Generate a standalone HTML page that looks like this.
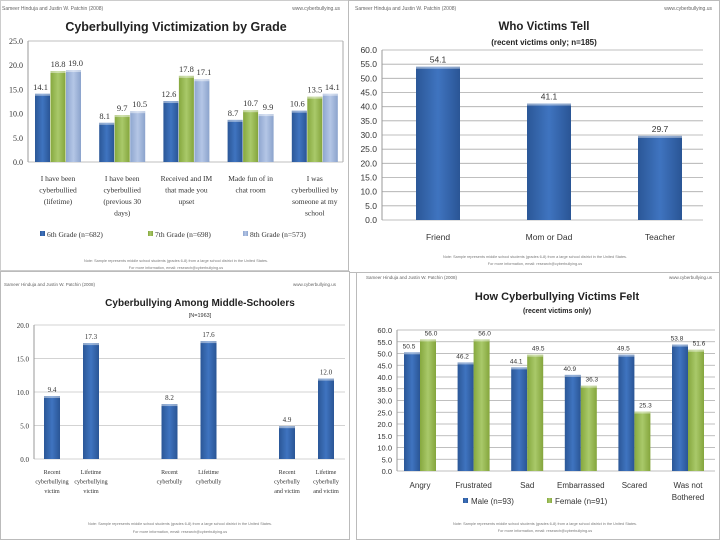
<!DOCTYPE html>
<html><head><meta charset="utf-8">
<style>
body{margin:0;width:720px;height:540px;background:#fff;position:relative;overflow:hidden;font-family:"Liberation Sans",sans-serif;}
.panel{position:absolute;background:#fff;border:1px solid #bbb;box-sizing:border-box;}
svg{position:absolute;left:0;top:0;}
</style></head>
<body>
<div class="panel" style="left:0;top:0;width:349px;height:271px;border-color:#ccc"></div>
<div class="panel" style="left:348px;top:0;width:372px;height:273px"></div>
<div class="panel" style="left:0;top:271px;width:350px;height:269px"></div>
<div class="panel" style="left:356px;top:272px;width:364px;height:268px"></div>
<svg id="s" width="720" height="540" xmlns="http://www.w3.org/2000/svg">
<defs>
<linearGradient id="gb" x1="0" x2="1"><stop offset="0" stop-color="#2b5797"/><stop offset="0.5" stop-color="#3f74c0"/><stop offset="1" stop-color="#2a5595"/></linearGradient>
<linearGradient id="gg" x1="0" x2="1"><stop offset="0" stop-color="#86a83e"/><stop offset="0.5" stop-color="#a9c96a"/><stop offset="1" stop-color="#84a53c"/></linearGradient>
<linearGradient id="gl" x1="0" x2="1"><stop offset="0" stop-color="#8ea6cf"/><stop offset="0.5" stop-color="#b4c6e6"/><stop offset="1" stop-color="#8ba3cc"/></linearGradient>
</defs>
</svg>
<script>
// Chart 1: Cyberbullying Victimization by Grade
const c1Categories=[["I have been","cyberbullied","(lifetime)"],["I have been","cyberbullied","(previous 30","days)"],["Received and IM","that made you","upset"],["Made fun of in","chat room"],["I was","cyberbullied by","someone at my","school"]];
const c1Grade6=[14.1,8.1,12.6,8.7,10.6];
const c1Grade7=[18.8,9.7,17.8,10.7,13.5];
const c1Grade8=[19.0,10.5,17.1,9.9,14.1];
const c1Ticks=[0,5,10,15,20,25];
// Chart 2: Who Victims Tell
const c2Categories=[["Friend"],["Mom or Dad"],["Teacher"]];
const c2Values=[54.1,41.1,29.7];
const c2Ticks=[0,5,10,15,20,25,30,35,40,45,50,55,60];
// Chart 3: Among Middle-Schoolers
const c3Categories=[["Recent","cyberbullying","victim"],["Lifetime","cyberbullying","victim"],["Recent","cyberbully"],["Lifetime","cyberbully"],["Recent","cyberbully","and victim"],["Lifetime","cyberbully","and victim"]];
const c3Values=[9.4,17.3,8.2,17.6,4.9,12.0];
const c3Ticks=[0,5,10,15,20];
// Chart 4: How Victims Felt
const c4Categories=[["Angry"],["Frustrated"],["Sad"],["Embarrassed"],["Scared"],["Was not","Bothered"]];
const c4Male=[50.5,46.2,44.1,40.9,49.5,53.8];
const c4Female=[56.0,56.0,49.5,36.3,25.3,51.6];
const c4Ticks=[0,5,10,15,20,25,30,35,40,45,50,55,60];

const svg=document.getElementById('s');
const NS='http://www.w3.org/2000/svg';
function mk(tag,attrs,name,parent){const e=document.createElementNS(NS,tag);for(const k in attrs)e.setAttribute(k,attrs[k]);


(parent||svg).appendChild(e);return e;}
function txt(x,y,s,size,name,opts){opts=opts||{};const t=mk('text',{x:x,y:y,'font-size':size,fill:opts.fill||'#333','text-anchor':opts.anchor||'middle','font-weight':opts.bold?'bold':'normal','font-family':opts.serif?'"Liberation Serif",serif':'"Liberation Sans",sans-serif'},name);t.textContent=s;return t;}

function chart(cfg){
  const yS=v=>cfg.y0-(v-cfg.min)/(cfg.max-cfg.min)*(cfg.y0-cfg.y1);
  cfg.ticks.forEach(t=>{
    if(!cfg.noGrid||t===cfg.min||t===cfg.max) mk('line',{x1:cfg.x0,x2:cfg.x1,y1:yS(t),y2:yS(t),stroke:cfg.gridColor||'#aaa','stroke-width':0.8},'gridline');
    txt(cfg.x0-5,yS(t)+3,t.toFixed(1),cfg.tickSize||9,'y-tick-label',{anchor:'end',serif:cfg.serif});
  });
  mk('line',{x1:cfg.x0,x2:cfg.x0,y1:cfg.y1,y2:cfg.y0,stroke:'#999'},'y-axis');
  if(cfg.box) mk('line',{x1:cfg.x1,x2:cfg.x1,y1:cfg.y1,y2:cfg.y0,stroke:'#aaa'},'plot-border');
  cfg.series.forEach((s,si)=>{
    s.values.forEach((v,i)=>{
      const cx=cfg.cx(i,si);const top=yS(v);
      mk('rect',{x:cx-cfg.bw/2,y:top,width:cfg.bw,height:cfg.y0-top,fill:s.fill},'bar-'+s.key+'-'+i);
      mk('rect',{x:cx-cfg.bw/2,y:top,width:cfg.bw,height:2,fill:'#fff',opacity:0.45},'bar-highlight');
      txt(cx+(s.lx||0),top-4,v.toFixed(1),cfg.valSize||9,'value-label',{serif:cfg.serif});
    });
  });
  cfg.cats.forEach((lines,i)=>{
    const cx=cfg.catX(i);
    lines.forEach((l,j)=>txt(cx,cfg.labelY+j*cfg.lh,l,cfg.catSize||8,'category-label',{serif:cfg.serif}));
  });
}

// Chart 1
txt(2,10,'Sameer Hinduja and Justin W. Patchin (2008)',5,'credit-text',{anchor:'start',fill:'#666'});
txt(340,10,'www.cyberbullying.us',5,'site-url',{anchor:'end',fill:'#666'});
txt(176,31,'Cyberbullying Victimization by Grade',12.5,'chart-title',{bold:true,fill:'#222'});
chart({x0:28,x1:343,y0:162,y1:41,min:0,max:25,ticks:c1Ticks,bw:15,serif:true,tickSize:8,valSize:8.5,catSize:7.5,lh:11.5,labelY:181,noGrid:true,box:true,
  cx:(i,si)=>58+64.2*i+(si-1)*15.5,catX:i=>58+64.2*i,cats:c1Categories,
  series:[{key:'6th',values:c1Grade6,fill:'url(#gb)',lx:-2},{key:'7th',values:c1Grade7,fill:'url(#gg)'},{key:'8th',values:c1Grade8,fill:'url(#gl)',lx:2}]});
[['6th Grade (n=682)','url(#gb)',40],['7th Grade (n=698)','url(#gg)',148],['8th Grade (n=573)','url(#gl)',243]].forEach(l=>{
  mk('rect',{x:l[2],y:231,width:5,height:5,fill:l[1]},'legend-swatch');
  txt(l[2]+7,237,l[0],7.5,'legend-entry',{anchor:'start',serif:true});
});
txt(176,262,'Note: Sample represents middle school students (grades 6-8) from a large school district in the United States.',3.8,'note',{fill:'#777'});
txt(176,269,'For more information, email: research@cyberbullying.us',3.8,'note',{fill:'#777'});

// Chart 2
txt(355,10,'Sameer Hinduja and Justin W. Patchin (2008)',5,'credit-text',{anchor:'start',fill:'#666'});
txt(712,10,'www.cyberbullying.us',5,'site-url',{anchor:'end',fill:'#666'});
txt(544,30,'Who Victims Tell',11.5,'chart-title',{bold:true,fill:'#222'});
txt(544,45,'(recent victims only; n=185)',8,'chart-subtitle',{bold:true,fill:'#222'});
chart({x0:382,x1:703,y0:220,y1:50,min:0,max:60,ticks:c2Ticks,bw:44,tickSize:8.5,valSize:8.5,catSize:8.5,lh:11,labelY:240,
  cx:i=>438+111*i,catX:i=>438+111*i,cats:c2Categories,series:[{key:'tell',values:c2Values,fill:'url(#gb)'}]});
txt(535,258,'Note: Sample represents middle school students (grades 6-8) from a large school district in the United States.',3.8,'note',{fill:'#777'});
txt(535,265,'For more information, email: research@cyberbullying.us',3.8,'note',{fill:'#777'});

// Chart 3
txt(4,286,'Sameer Hinduja and Justin W. Patchin (2008)',4.5,'credit-text',{anchor:'start',fill:'#666'});
txt(336,286,'www.cyberbullying.us',4.5,'site-url',{anchor:'end',fill:'#666'});
txt(200,306,'Cyberbullying Among Middle-Schoolers',10,'chart-title',{bold:true,fill:'#222'});
txt(200,317,'[N=1963]',5.5,'chart-subtitle',{fill:'#333'});
chart({x0:34,x1:345,y0:459,y1:325,min:0,max:20,ticks:c3Ticks,bw:16,tickSize:7,valSize:7,catSize:6,lh:9.5,labelY:474,gridColor:'#c4c4c4',serif:true,
  cx:i=>71.5+117.5*Math.floor(i/2)+(i%2?19.5:-19.5),catX:i=>71.5+117.5*Math.floor(i/2)+(i%2?19.5:-19.5),cats:c3Categories,
  series:[{key:'middle',values:c3Values,fill:'url(#gb)'}]});
txt(180,525,'Note: Sample represents middle school students (grades 6-8) from a large school district in the United States.',3.8,'note',{fill:'#777'});
txt(180,533,'For more information, email: research@cyberbullying.us',3.8,'note',{fill:'#777'});

// Chart 4
txt(366,279,'Sameer Hinduja and Justin W. Patchin (2008)',4.5,'credit-text',{anchor:'start',fill:'#666'});
txt(712,279,'www.cyberbullying.us',4.5,'site-url',{anchor:'end',fill:'#666'});
txt(557,300,'How Cyberbullying Victims Felt',11,'chart-title',{bold:true,fill:'#222'});
txt(557,313,'(recent victims only)',7,'chart-subtitle',{bold:true,fill:'#222'});
chart({x0:397,x1:715,y0:471,y1:330,min:0,max:60,ticks:c4Ticks,bw:16,tickSize:7.5,valSize:6.5,catSize:8,lh:12,labelY:488,
  cx:(i,si)=>420+53.6*i+(si?8:-8),catX:i=>420+53.6*i,cats:c4Categories,
  series:[{key:'male',values:c4Male,fill:'url(#gb)',lx:-3},{key:'female',values:c4Female,fill:'url(#gg)',lx:3}]});
[['Male (n=93)','url(#gb)',463],['Female (n=91)','url(#gg)',547]].forEach(l=>{
  mk('rect',{x:l[2],y:498,width:5,height:5,fill:l[1]},'legend-swatch');
  txt(l[2]+8,504,l[0],8,'legend-entry',{anchor:'start'});
});
txt(545,525,'Note: Sample represents middle school students (grades 6-8) from a large school district in the United States.',3.8,'note',{fill:'#777'});
txt(545,532,'For more information, email: research@cyberbullying.us',3.8,'note',{fill:'#777'});
</script>
</body></html>
